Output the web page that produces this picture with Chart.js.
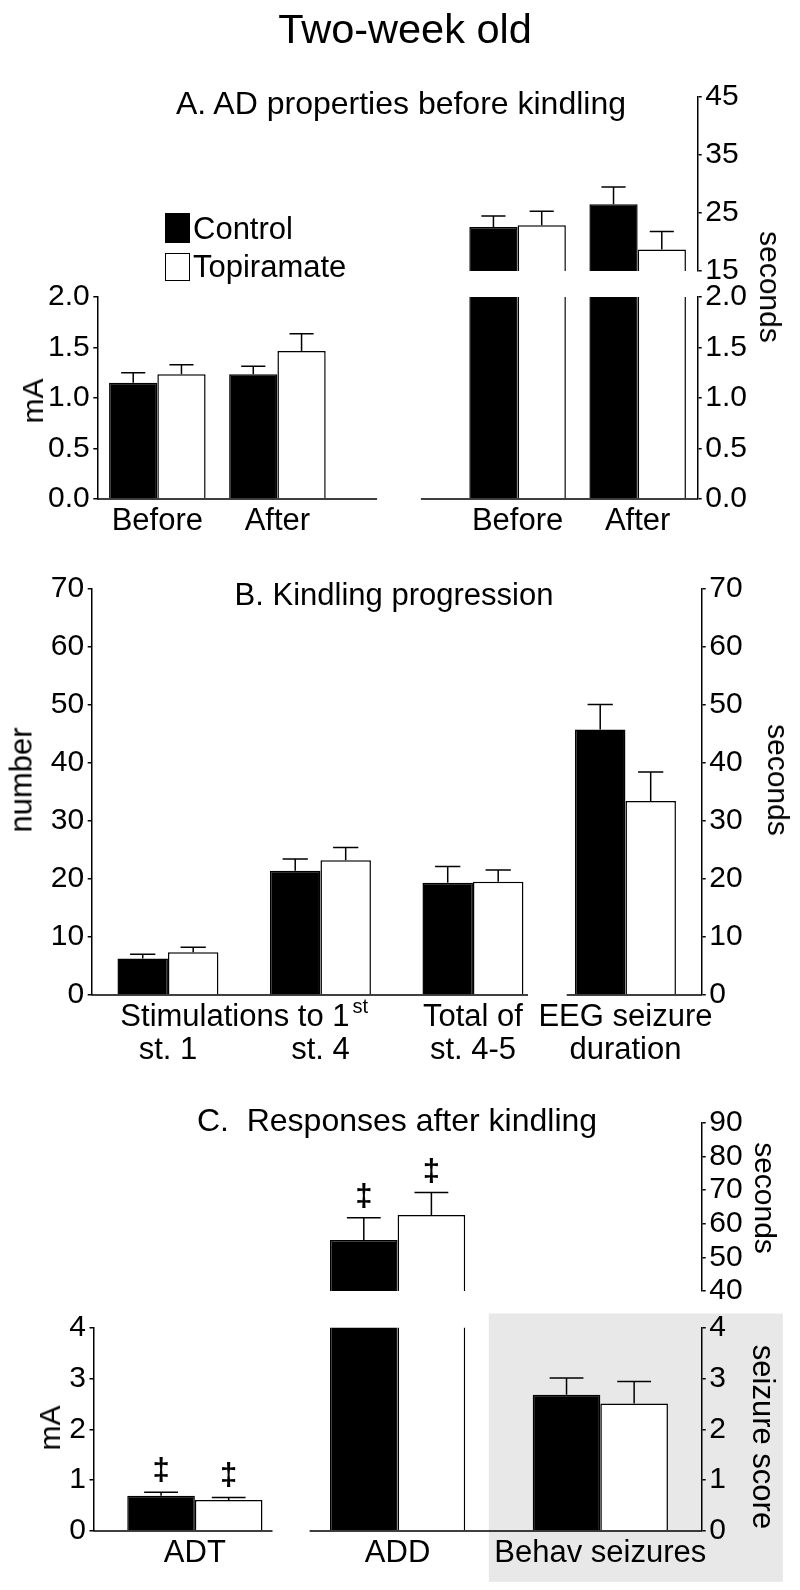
<!DOCTYPE html>
<html>
<head>
<meta charset="utf-8">
<script src="https://cdn.jsdelivr.net/npm/chart.js@4.4.1/dist/chart.umd.min.js"></script>
<style>
  html, body { margin: 0; padding: 0; background: #ffffff; }
  #page { position: relative; width: 800px; height: 1590px; overflow: hidden;
          font-family: "Liberation Sans", Arial, Helvetica, sans-serif; color: #000; }
  #page canvas { position: absolute; left: 0; top: 0; }
  .t { position: absolute; white-space: pre; line-height: 1; }
  .sw { position: absolute; box-sizing: border-box; border: 1.5px solid #000; }
</style>
</head>
<body>
<div id="page">
  <canvas id="cA1" width="800" height="1590"></canvas>
  <canvas id="cA2" width="800" height="1590"></canvas>
  <canvas id="cB" width="800" height="1590"></canvas>
  <canvas id="cC2" width="800" height="1590"></canvas>
  <canvas id="cC1" width="800" height="1590"></canvas>
</div>
<script>
// ---------------- DATA ----------------
// Panel A: AD properties before kindling
const aCategories = ['Before', 'After'];
const aThresholdControl = [1.15, 1.235];        // mA
const aThresholdControlErr = [0.10, 0.08];
const aThresholdTopiramate = [1.235, 1.465];    // mA
const aThresholdTopiramateErr = [0.095, 0.17];
const aDurationControl = [22.6, 26.5];          // seconds
const aDurationControlErr = [1.9, 3.0];
const aDurationTopiramate = [22.9, 18.7];       // seconds
const aDurationTopiramateErr = [2.4, 3.1];
const aMaTicks = [0, 0.5, 1.0, 1.5, 2.0];
const aSecUpperTicks = [15, 25, 35, 45];

// Panel B: Kindling progression
const bGroupLabel = 'Stimulations to 1';
const bGroupSup = 'st';
const bLine1 = ['', '', 'Total of', 'EEG seizure'];
const bLine2 = ['st. 1', 'st. 4', 'st. 4-5', 'duration'];
const bCountControl = [6.3, 21.4, 19.3];        // number
const bCountControlErr = [0.7, 2.0, 2.8];
const bCountTopiramate = [7.35, 23.2, 19.5];
const bCountTopiramateErr = [0.85, 2.2, 2.0];
const bEegControl = [45.7];                     // seconds
const bEegControlErr = [4.3];
const bEegTopiramate = [33.4];
const bEegTopiramateErr = [5.0];
const bTicks = [0, 10, 20, 30, 40, 50, 60, 70];

// Panel C: Responses after kindling  (ADT mA, ADD seconds, Behav seizures score)
const cCategories = ['ADT', 'ADD', 'Behav seizures'];
const cControl = [0.695, 55.2, 2.68];
const cControlErr = [0.065, 6.6, 0.33];
const cTopiramate = [0.61, 62.6, 2.51];
const cTopiramateErr = [0.05, 6.7, 0.43];
const cControlMarks = ['‡', '‡', ''];
const cTopiramateMarks = ['‡', '‡', ''];
const cLowTicks = [0, 1, 2, 3, 4];
const cSecTicks = [40, 50, 60, 70, 80, 90];

const seriesNames = ['Control', 'Topiramate'];
const seriesFill = ['#000000', '#ffffff'];

// ---------------- SETUP ----------------
const FONT = '"Liberation Sans", Arial, Helvetica, sans-serif';
Chart.defaults.font.family = FONT;
Chart.defaults.color = '#000';
Chart.defaults.animation = false;
Chart.defaults.events = [];
Chart.defaults.plugins.legend.display = false;
Chart.defaults.plugins.tooltip.enabled = false;

const W = 800, H = 1590;
const XFONT = 31;
const page = document.getElementById('page');

function pick(arr, n, offset) {            // place arr values into n slots starting at offset
  const out = new Array(n).fill(null);
  arr.forEach((v, i) => { out[offset + i] = v; });
  return out;
}
function pickIdx(arr, n, idxs) {
  const out = new Array(n).fill(null);
  idxs.forEach(i => { out[i] = arr[i]; });
  return out;
}
function barSet(si, data, errors, marks, yAxisID, catPct) {
  return {
    label: seriesNames[si], data, errors, marks,
    backgroundColor: seriesFill[si], borderColor: '#000', borderWidth: 1.5,
    yAxisID, stack: 's' + si, clip: 0, barPercentage: 1, categoryPercentage: catPct
  };
}
function yAxis(position, min, max, tickVals, fmt, width) {
  return {
    type: 'linear', position, min, max, stacked: false,
    afterBuildTicks: s => { s.ticks = tickVals.map(v => ({ value: v })); },
    afterFit: s => { s.width = width; },
    border: { display: true, color: '#000', width: 1.5 },
    grid: { display: true, drawOnChartArea: false, drawTicks: true, tickLength: 4,
            tickWidth: 1.5, tickColor: '#000', color: '#000', lineWidth: 1.5 },
    ticks: { autoSkip: false, padding: 3.5, font: { size: 30 }, color: '#000', callback: fmt }
  };
}
function xAxis(display, height) {
  return {
    type: 'category', offset: true, display,
    afterFit: s => { s.height = height; },
    border: { display: false },
    grid: { display: false, drawTicks: false },
    ticks: { autoSkip: false, maxRotation: 0, minRotation: 0, padding: 6.5,
             font: { size: XFONT, lineHeight: 1.05 }, color: '#000' }
  };
}
function pad(area, wl, wr, hb) {
  return { left: area.left - wl, right: W - area.right - wr, top: area.top, bottom: H - area.bottom - hb };
}
const fmt1 = v => Number(v).toFixed(1);
const fmt0 = v => String(v);

// ---------------- PLUGINS ----------------
const errorBars = {
  id: 'errorBars',
  afterDatasetsDraw(chart) {
    const ctx = chart.ctx;
    chart.data.datasets.forEach((ds, i) => {
      if (!ds.errors) return;
      const meta = chart.getDatasetMeta(i);
      const ys = chart.scales[meta.yAxisID];
      meta.data.forEach((bar, j) => {
        const v = ds.data[j], e = ds.errors[j];
        if (v == null || e == null || v > ys.max) return;
        const top = ys.getPixelForValue(v + e);
        const half = bar.width / 4;
        ctx.save();
        ctx.strokeStyle = '#000'; ctx.lineWidth = 1.5;
        ctx.beginPath();
        ctx.moveTo(bar.x, bar.y); ctx.lineTo(bar.x, top);
        ctx.moveTo(bar.x - half, top); ctx.lineTo(bar.x + half, top);
        ctx.stroke();
        if (ds.marks && ds.marks[j]) {
          ctx.fillStyle = '#000';
          ctx.font = 'bold 31px ' + FONT;
          ctx.textAlign = 'center'; ctx.textBaseline = 'alphabetic';
          ctx.fillText(ds.marks[j], bar.x, top - 12);
        }
        ctx.restore();
      });
    });
  }
};
const brokenXAxis = {
  id: 'brokenXAxis',
  afterDraw(chart, args, opts) {
    if (!opts || !opts.show) return;
    const { ctx, chartArea: a } = chart;
    const x = chart.scales.x;
    const cw = x.getPixelForValue(1) - x.getPixelForValue(0);
    const pts = [a.left];
    (opts.breaks || []).forEach(b => {
      const c = x.getPixelForValue(b.at);
      pts.push(c + b.from * cw, c + b.to * cw);
    });
    pts.push(a.right);
    ctx.save();
    ctx.strokeStyle = '#000'; ctx.lineWidth = 1.5;
    ctx.beginPath();
    for (let i = 0; i < pts.length; i += 2) {
      ctx.moveTo(pts[i], a.bottom); ctx.lineTo(pts[i + 1], a.bottom);
    }
    ctx.stroke();
    ctx.restore();
  }
};
const shadeBand = {
  id: 'shadeBand',
  beforeDraw(chart, args, opts) {
    if (!opts || !opts.show) return;
    const { ctx, chartArea: a } = chart;
    const x = chart.scales.x;
    const cw = x.getPixelForValue(1) - x.getPixelForValue(0);
    const left = x.getPixelForValue(opts.at) + opts.from * cw;
    const right = a.right + opts.extraRight * cw;
    const top = a.top - opts.extraTop * a.height;
    const bottom = a.bottom + opts.extraBottom * a.height;
    ctx.save();
    ctx.fillStyle = opts.color;
    ctx.fillRect(left, top, right - left, bottom - top);
    ctx.restore();
  }
};
const groupLabel = {
  id: 'groupLabel',
  afterDraw(chart, args, opts) {
    if (!opts || !opts.text) return;
    const ctx = chart.ctx;
    const x = chart.scales.x;
    const cx = (x.getPixelForValue(opts.from) + x.getPixelForValue(opts.to)) / 2;
    const y = x.top + opts.padding + opts.lineHeight / 2;
    ctx.save();
    ctx.fillStyle = '#000';
    ctx.font = opts.size + 'px ' + FONT;
    const w1 = ctx.measureText(opts.text).width;
    ctx.font = opts.supSize + 'px ' + FONT;
    const w2 = ctx.measureText(opts.sup).width;
    const start = cx - (w1 + 3 + w2) / 2;
    ctx.textAlign = 'left';
    ctx.textBaseline = 'middle';
    ctx.font = opts.size + 'px ' + FONT;
    ctx.fillText(opts.text, start, y);
    ctx.font = opts.supSize + 'px ' + FONT;
    ctx.textBaseline = 'alphabetic';
    ctx.fillText(opts.sup, start + w1 + 3, y + 0.3465 * opts.size - 16);
    ctx.restore();
  }
};
const PLUGINS = [errorBars, brokenXAxis, shadeBand, groupLabel];

// ---------------- LAYOUT AREAS ----------------
const A_UP = { left: 97.3, right: 697.7, top: 97, bottom: 271 };
const A_LO = { left: 97.3, right: 697.7, top: 297, bottom: 499 };
const B_AR = { left: 91.7, right: 701.7, top: 588.3, bottom: 995 };
const C_UP = { left: 93.5, right: 701.7, top: 1123, bottom: 1291 };
const C_LO = { left: 93.5, right: 701.7, top: 1327.7, bottom: 1531 };

function makeChart(id, cfg) {
  cfg.options.responsive = false;
  cfg.options.maintainAspectRatio = false;
  cfg.options.devicePixelRatio = 1;
  cfg.plugins = PLUGINS;
  return new Chart(document.getElementById(id), cfg);
}

// ---------------- PANEL A ----------------
const aLabels = [...aCategories, '', ...aCategories];
const aPct = 0.804;
makeChart('cA1', {
  type: 'bar',
  data: {
    labels: aLabels,
    datasets: [
      barSet(0, pick(aDurationControl, 5, 3), pick(aDurationControlErr, 5, 3), null, 'ySec', aPct),
      barSet(1, pick(aDurationTopiramate, 5, 3), pick(aDurationTopiramateErr, 5, 3), null, 'ySec', aPct)
    ]
  },
  options: {
    layout: { padding: pad(A_UP, 0, 60, 0) },
    scales: { x: xAxis(false, 0), ySec: yAxis('right', 15, 45, aSecUpperTicks, fmt0, 60) }
  }
});
makeChart('cA2', {
  type: 'bar',
  data: {
    labels: aLabels,
    datasets: [
      barSet(0, pick(aThresholdControl, 5, 0), pick(aThresholdControlErr, 5, 0), null, 'yMA', aPct),
      barSet(1, pick(aThresholdTopiramate, 5, 0), pick(aThresholdTopiramateErr, 5, 0), null, 'yMA', aPct),
      barSet(0, pick(aDurationControl, 5, 3), pick(aDurationControlErr, 5, 3), null, 'ySec', aPct),
      barSet(1, pick(aDurationTopiramate, 5, 3), pick(aDurationTopiramateErr, 5, 3), null, 'ySec', aPct)
    ]
  },
  options: {
    layout: { padding: pad(A_LO, 60, 60, 60) },
    scales: {
      x: xAxis(true, 60),
      yMA: yAxis('left', 0, 2, aMaTicks, fmt1, 60),
      ySec: yAxis('right', 0, 2, aMaTicks, fmt1, 60)
    },
    plugins: { brokenXAxis: { show: true, breaks: [{ at: 2, from: -0.17, to: 0.195 }] } }
  }
});

// ---------------- PANEL B ----------------
const bLabels = bLine1.map((l, i) => [l, bLine2[i]]);
const bPct = 0.662;
makeChart('cB', {
  type: 'bar',
  data: {
    labels: bLabels,
    datasets: [
      barSet(0, pick(bCountControl, 4, 0), pick(bCountControlErr, 4, 0), null, 'yNum', bPct),
      barSet(1, pick(bCountTopiramate, 4, 0), pick(bCountTopiramateErr, 4, 0), null, 'yNum', bPct),
      barSet(0, pick(bEegControl, 4, 3), pick(bEegControlErr, 4, 3), null, 'ySec', bPct),
      barSet(1, pick(bEegTopiramate, 4, 3), pick(bEegTopiramateErr, 4, 3), null, 'ySec', bPct)
    ]
  },
  options: {
    layout: { padding: pad(B_AR, 60, 60, 80) },
    scales: {
      x: xAxis(true, 80),
      yNum: yAxis('left', 0, 70, bTicks, fmt0, 60),
      ySec: yAxis('right', 0, 70, bTicks, fmt0, 60)
    },
    plugins: {
      brokenXAxis: { show: true, breaks: [{ at: 2.5, from: -0.139, to: 0.115 }] },
      groupLabel: { text: bGroupLabel, sup: bGroupSup, from: 0, to: 1, size: XFONT, supSize: 20,
                    padding: 6.5, lineHeight: XFONT * 1.05 }
    }
  }
});

// ---------------- PANEL C ----------------
const cPct = 0.667;
makeChart('cC2', {
  type: 'bar',
  data: {
    labels: cCategories,
    datasets: [
      barSet(0, pickIdx(cControl, 3, [0, 1]), pickIdx(cControlErr, 3, [0, 1]), cControlMarks, 'yMA', cPct),
      barSet(1, pickIdx(cTopiramate, 3, [0, 1]), pickIdx(cTopiramateErr, 3, [0, 1]), cTopiramateMarks, 'yMA', cPct),
      barSet(0, pickIdx(cControl, 3, [2]), pickIdx(cControlErr, 3, [2]), null, 'yScore', cPct),
      barSet(1, pickIdx(cTopiramate, 3, [2]), pickIdx(cTopiramateErr, 3, [2]), null, 'yScore', cPct)
    ]
  },
  options: {
    layout: { padding: pad(C_LO, 60, 60, 50) },
    scales: {
      x: xAxis(true, 50),
      yMA: yAxis('left', 0, 4, cLowTicks, fmt0, 60),
      yScore: yAxis('right', 0, 4, cLowTicks, fmt0, 60)
    },
    plugins: {
      brokenXAxis: { show: true, breaks: [{ at: 0.5, from: -0.117, to: 0.066 }] },
      shadeBand: { show: true, color: '#e8e8e8', at: 1.5, from: -0.05, extraRight: 0.4,
                   extraTop: 0.07, extraBottom: 0.25 }
    }
  }
});
makeChart('cC1', {
  type: 'bar',
  data: {
    labels: cCategories,
    datasets: [
      barSet(0, pickIdx(cControl, 3, [1]), pickIdx(cControlErr, 3, [1]), cControlMarks, 'ySec', cPct),
      barSet(1, pickIdx(cTopiramate, 3, [1]), pickIdx(cTopiramateErr, 3, [1]), cTopiramateMarks, 'ySec', cPct)
    ]
  },
  options: {
    layout: { padding: pad(C_UP, 0, 60, 0) },
    scales: { x: xAxis(false, 0), ySec: yAxis('right', 40, 90, cSecTicks, fmt0, 60) }
  }
});

// ---------------- TEXT ----------------
function addText(txt, o) {
  const d = document.createElement('div');
  d.className = 't';
  d.textContent = txt;
  d.style.fontSize = o.size + 'px';
  if (o.rotate) {
    d.style.left = o.x + 'px';
    d.style.top = o.y + 'px';
    d.style.transform = 'translate(-50%,-50%) rotate(' + o.rotate + 'deg)';
  } else {
    d.style.top = (o.baseline - 0.8465 * o.size) + 'px';
    d.style.left = o.x + 'px';
    if (o.align !== 'left') d.style.transform = 'translateX(-50%)';
  }
  page.appendChild(d);
}
function addSwatch(color, x, y, w, h) {
  const d = document.createElement('div');
  d.className = 'sw';
  d.style.left = x + 'px'; d.style.top = y + 'px';
  d.style.width = w + 'px'; d.style.height = h + 'px';
  d.style.background = color;
  page.appendChild(d);
}

addText('Two-week old', { x: 405, baseline: 43, size: 41.5 });
addText('A. AD properties before kindling', { x: 401, baseline: 114, size: 32 });
addText('B. Kindling progression', { x: 394, baseline: 605, size: 31 });
addText('C.  Responses after kindling', { x: 397, baseline: 1131, size: 32 });

// legend
addSwatch(seriesFill[0], 165, 213, 25, 30);
addSwatch(seriesFill[1], 165, 253, 25, 28);
addText(seriesNames[0], { x: 193, baseline: 239, size: 31, align: 'left' });
addText(seriesNames[1], { x: 193, baseline: 277, size: 31, align: 'left' });

// axis titles
addText('mA', { x: 33, y: 401, size: 30, rotate: -90 });
addText('seconds', { x: 770, y: 287, size: 30, rotate: 90 });
addText('number', { x: 21, y: 780, size: 31, rotate: -90 });
addText('seconds', { x: 778, y: 780, size: 30, rotate: 90 });
addText('mA', { x: 50, y: 1428, size: 30, rotate: -90 });
addText('seconds', { x: 765, y: 1198, size: 30, rotate: 90 });
addText('seizure score', { x: 763, y: 1437, size: 31, rotate: 90 });
</script>
</body>
</html>
